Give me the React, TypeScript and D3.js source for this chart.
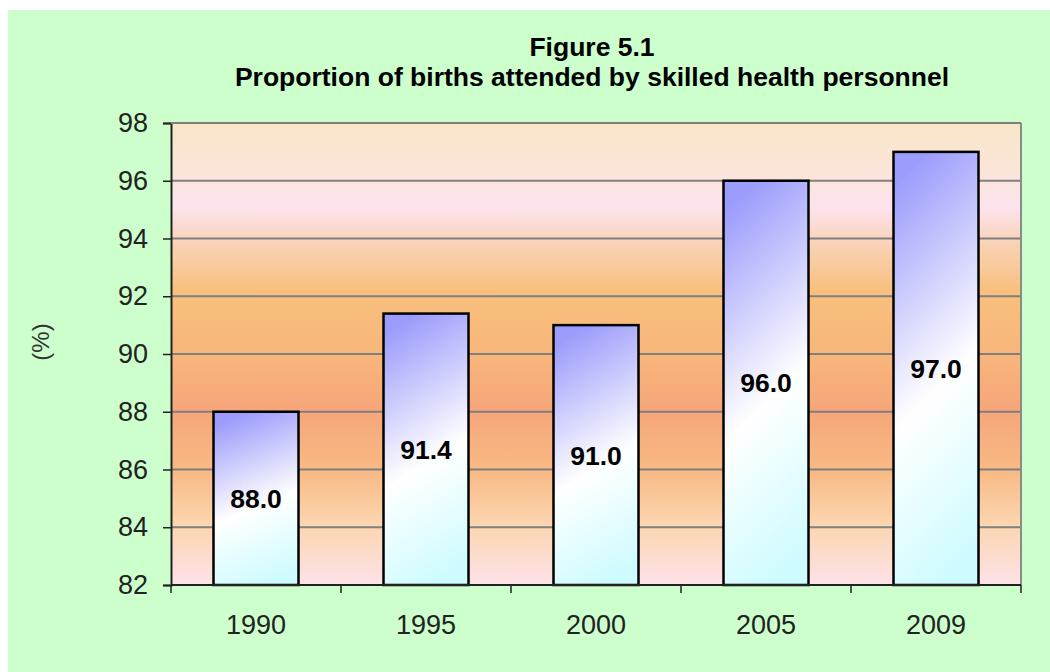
import React, { useEffect, useRef } from 'react';
import * as d3 from 'd3';

const years = ['1990', '1995', '2000', '2005', '2009'];
const values = [88.0, 91.4, 91.0, 96.0, 97.0];
const yTicks = [82, 84, 86, 88, 90, 92, 94, 96, 98];

const titleLines = ['Figure 5.1', 'Proportion of births attended by skilled health personnel'];
const yAxisLabel = '(%)';

const App: React.FC = () => {
  const svgRef = useRef<SVGSVGElement | null>(null);
  const width = 1050;
  const height = 672;

  useEffect(() => {
    if (!svgRef.current) {
      return;
    }
    const svg = d3.select(svgRef.current);
    svg.selectAll('*').remove();

    const margin = { top: 123, right: 29, bottom: 87, left: 171 };
    const innerWidth = width - margin.left - margin.right;
    const innerHeight = height - margin.top - margin.bottom;
    const font = 'Arial, "Liberation Sans", sans-serif';

    const defs = svg.append('defs');

    // plot area background
    const bg = defs
      .append('linearGradient')
      .attr('id', 'plot-bg')
      .attr('x1', 0)
      .attr('y1', 0)
      .attr('x2', 0)
      .attr('y2', 1);
    [
      ['0%', '#f9e6c8'],
      ['12%', '#fbe5dc'],
      ['18%', '#fde3ee'],
      ['26%', '#f9d3b8'],
      ['36%', '#f8c07f'],
      ['50%', '#f8b67a'],
      ['62%', '#f6a67a'],
      ['75%', '#f8b984'],
      ['87%', '#fbd6b0'],
      ['100%', '#fde2e8'],
    ].forEach(([o, c]) => bg.append('stop').attr('offset', o).attr('stop-color', c));

    const barGrad = defs
      .append('linearGradient')
      .attr('id', 'bar-fill')
      .attr('x1', 0.4)
      .attr('y1', 0)
      .attr('x2', 0.6)
      .attr('y2', 1);
    barGrad.append('stop').attr('offset', '0%').attr('stop-color', '#9c9cfc');
    barGrad.append('stop').attr('offset', '55%').attr('stop-color', '#ffffff');
    barGrad.append('stop').attr('offset', '100%').attr('stop-color', '#cdfbff');

    svg.append('rect').attr('width', width).attr('height', height).attr('fill', '#ffffff');
    svg.append('rect').attr('x', 8).attr('y', 10).attr('width', width - 8).attr('height', height - 10).attr('fill', '#ccffcc');

    const xScale = d3.scaleBand<string>().domain(years).range([0, innerWidth]).paddingInner(0.5).paddingOuter(0.25);
    const yScale = d3.scaleLinear().domain([82, 98]).range([innerHeight, 0]);

    const g = svg.append('g').attr('transform', `translate(${margin.left},${margin.top})`);

    g.append('rect').attr('width', innerWidth).attr('height', innerHeight).attr('fill', 'url(#plot-bg)');

    g.selectAll('.grid')
      .data(yTicks.filter(t => t > 82))
      .join('line')
      .attr('class', 'grid')
      .attr('x1', 0)
      .attr('x2', innerWidth)
      .attr('y1', d => yScale(d))
      .attr('y2', d => yScale(d))
      .attr('stroke', '#7f7f7f')
      .attr('stroke-width', 2);

    g.append('line')
      .attr('x1', innerWidth)
      .attr('x2', innerWidth)
      .attr('y1', 0)
      .attr('y2', innerHeight)
      .attr('stroke', '#8a8a8a')
      .attr('stroke-width', 2);

    // bars
    g.selectAll('.bar')
      .data(values)
      .join('rect')
      .attr('class', 'bar')
      .attr('x', (_, i) => xScale(years[i]) ?? 0)
      .attr('y', d => yScale(d))
      .attr('width', xScale.bandwidth())
      .attr('height', d => innerHeight - yScale(d))
      .attr('fill', 'url(#bar-fill)')
      .attr('stroke', '#000000')
      .attr('stroke-width', 2.5);

    g.selectAll('.bar-label')
      .data(values)
      .join('text')
      .attr('class', 'bar-label')
      .attr('x', (_, i) => (xScale(years[i]) ?? 0) + xScale.bandwidth() / 2)
      .attr('y', d => (yScale(d) + innerHeight) / 2)
      .attr('dy', '0.36em')
      .attr('text-anchor', 'middle')
      .attr('font-family', font)
      .attr('font-weight', 'bold')
      .attr('font-size', 26.5)
      .attr('fill', '#000000')
      .text(d => d.toFixed(1));

    // y axis
    const yAxis = g
      .append('g')
      .call(d3.axisLeft(yScale).tickValues(yTicks).tickSize(8).tickPadding(15).tickFormat(d3.format('d')));
    yAxis.select('.domain').attr('stroke', '#222').attr('stroke-width', 2);
    yAxis.selectAll('.tick line').attr('stroke', '#222').attr('stroke-width', 1.5);
    yAxis
      .selectAll('text')
      .attr('font-family', font)
      .attr('font-size', 27)
      .attr('fill', '#222');

    // x axis: ticks at category boundaries
    const boundaries = d3.range(years.length + 1).map(i => (innerWidth / years.length) * i);
    const xAxis = g.append('g').attr('transform', `translate(0,${innerHeight})`);
    xAxis
      .append('line')
      .attr('x1', 0)
      .attr('x2', innerWidth)
      .attr('stroke', '#222')
      .attr('stroke-width', 2);
    xAxis
      .selectAll('.xtick')
      .data(boundaries)
      .join('line')
      .attr('class', 'xtick')
      .attr('x1', d => d)
      .attr('x2', d => d)
      .attr('y1', 0)
      .attr('y2', 8)
      .attr('stroke', '#222')
      .attr('stroke-width', 1.5);
    xAxis
      .selectAll('.xlabel')
      .data(years)
      .join('text')
      .attr('class', 'xlabel')
      .attr('x', d => (xScale(d) ?? 0) + xScale.bandwidth() / 2)
      .attr('y', 49)
      .attr('text-anchor', 'middle')
      .attr('font-family', font)
      .attr('font-size', 27)
      .attr('fill', '#222')
      .text(d => d);

    // top border
    g.append('line')
      .attr('x1', 0)
      .attr('x2', innerWidth)
      .attr('y1', 0)
      .attr('y2', 0)
      .attr('stroke', '#7f7f7f')
      .attr('stroke-width', 2);

    // title
    svg
      .selectAll('.title')
      .data(titleLines)
      .join('text')
      .attr('class', 'title')
      .attr('x', 592)
      .attr('y', (_, i) => 56 + i * 30)
      .attr('text-anchor', 'middle')
      .attr('font-family', font)
      .attr('font-weight', 'bold')
      .attr('font-size', 26.5)
      .attr('fill', '#000000')
      .text(d => d);

    svg
      .append('text')
      .attr('transform', `translate(49,${margin.top + innerHeight / 2 - 12}) rotate(-90)`)
      .attr('text-anchor', 'middle')
      .attr('font-family', font)
      .attr('font-size', 24)
      .attr('fill', '#333')
      .text(yAxisLabel);
  }, []);

  return (
    <svg
      ref={svgRef}
      width={width}
      height={height}
      style={{ position: 'absolute', left: 0, top: 0, display: 'block' }}
    />
  );
};

export default App;
